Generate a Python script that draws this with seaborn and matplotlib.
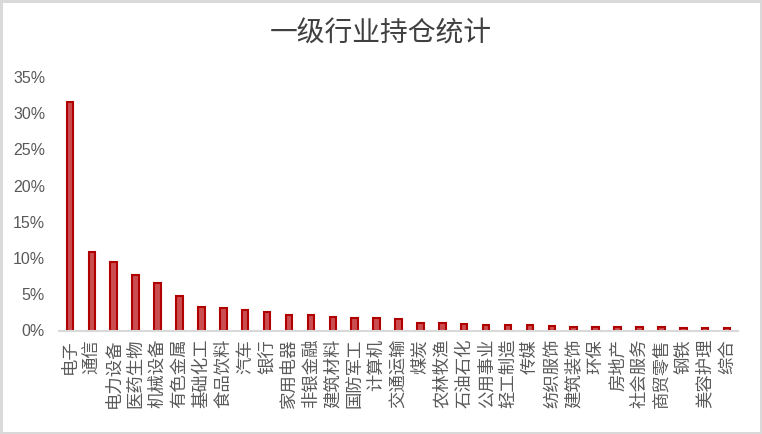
import matplotlib
matplotlib.use("Agg")
import matplotlib.pyplot as plt
import seaborn as sns
from matplotlib.ticker import FuncFormatter, MultipleLocator

industries = ["电子", "通信", "电力设备", "医药生物", "机械设备", "有色金属", "基础化工", "食品饮料",
              "汽车", "银行", "家用电器", "非银金融", "建筑材料", "国防军工", "计算机", "交通运输",
              "煤炭", "农林牧渔", "石油石化", "公用事业", "轻工制造", "传媒", "纺织服饰", "建筑装饰",
              "环保", "房地产", "社会服务", "商贸零售", "钢铁", "美容护理", "综合"]
weights = [0.315, 0.109, 0.094, 0.076, 0.065, 0.047, 0.033, 0.0315,
           0.028, 0.025, 0.022, 0.021, 0.0187, 0.0169, 0.0169, 0.0155,
           0.010, 0.010, 0.0086, 0.0076, 0.0074, 0.0072, 0.0058, 0.0044,
           0.0044, 0.0044, 0.0044, 0.0044, 0.003, 0.003, 0.003]
title = "一级行业持仓统计"

sns.set_theme(style="white")
plt.rcParams['font.family'] = ['Noto Sans CJK SC', 'DejaVu Sans']

fig = plt.figure(figsize=(7.62, 4.34), dpi=100, linewidth=2.5, edgecolor='#D9D9D9')
ax = fig.add_axes([59/762, 103.5/434, (738-59)/762, (357-103.5)/434])

sns.barplot(x=industries, y=weights, ax=ax, width=0.3, color='#CA4E50',
            edgecolor='#B00000', linewidth=1.5, saturation=1)

ax.set_ylim(0, 0.35)
ax.set_xlim(-0.5, len(industries) - 0.5)
ax.yaxis.set_major_locator(MultipleLocator(0.05))
ax.yaxis.set_major_formatter(FuncFormatter(lambda v, p: f"{v*100:.0f}%"))

for s in ['top', 'right', 'left']:
    ax.spines[s].set_visible(False)
ax.spines['bottom'].set_color('#D9D9D9')
ax.spines['bottom'].set_linewidth(1.5)

ax.tick_params(axis='x', length=0, pad=6, labelsize=12.5, labelcolor='#595959', rotation=90)
ax.tick_params(axis='y', length=0, pad=10, labelsize=11.5, labelcolor='#595959')
for lab in ax.get_yticklabels():
    lab.set_fontfamily(['Liberation Sans', 'DejaVu Sans'])
for lab in ax.get_xticklabels():
    lab.set_verticalalignment('top')

ax.set_xlabel('')
ax.set_ylabel('')
fig.text(0.5, 1 - 34/434, title, ha='center', va='center', fontsize=20, color='#404040')

fig.savefig('out.png', dpi=100)
